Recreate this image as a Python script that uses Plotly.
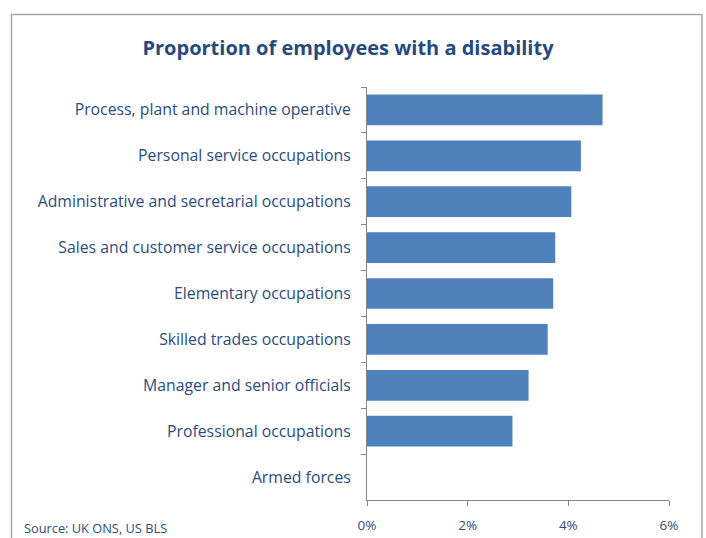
import plotly.graph_objects as go

# Share of employees reporting a disability, by occupation group (%)
occupations = [
    "Process, plant and machine operative",
    "Personal service occupations",
    "Administrative and secretarial occupations",
    "Sales and customer service occupations",
    "Elementary occupations",
    "Skilled trades occupations",
    "Manager and senior officials",
    "Professional occupations",
    "Armed forces",
]
share_pct = [4.68, 4.25, 4.06, 3.74, 3.70, 3.59, 3.21, 2.89, 0.0]
x_ticks = [0, 2, 4, 6]
x_tick_labels = ["0%", "2%", "4%", "6%"]

text_blue = "#2C4D80"
axis_grey = "#868686"
font_family = "Open Sans, Carlito, Calibri, sans-serif"

fig = go.Figure(
    go.Bar(
        x=share_pct,
        y=occupations,
        orientation="h",
        marker=dict(color="#4F81BD", line=dict(width=0)),
        hoverinfo="x+y",
    )
)

W, H = 706, 538
ml, mr, mt, mb = 367, 37, 87, 38
pw, ph = W - ml - mr, H - mt - mb


def px_x(px):
    return (px - ml) / pw


def px_y(py):
    return (H - mb - py) / ph


fig.update_layout(
    width=W,
    height=H,
    margin=dict(l=ml, r=mr, t=mt, b=mb, autoexpand=False),
    paper_bgcolor="white",
    plot_bgcolor="white",
    bargap=0.33,
    showlegend=False,
    font=dict(family=font_family, color=text_blue, size=15),
    title=dict(
        text="<b>Proportion of employees with a disability</b>",
        x=348 / W,
        xref="container",
        xanchor="center",
        y=1 - 48 / H,
        yref="container",
        yanchor="middle",
        font=dict(size=20, color="#254A7E", family=font_family),
    ),
    xaxis=dict(
        range=[0, 6],
        tickvals=x_ticks,
        ticktext=x_tick_labels,
        showgrid=False,
        zeroline=False,
        showline=True,
        linecolor=axis_grey,
        linewidth=1,
        ticks="outside",
        ticklen=5,
        tickcolor=axis_grey,
        tickfont=dict(size=13.5, color=text_blue),
        ticklabelstandoff=8,
        automargin=False,
        fixedrange=True,
    ),
    yaxis=dict(
        categoryorder="array",
        categoryarray=occupations,
        autorange="reversed",
        showgrid=False,
        zeroline=False,
        showline=True,
        linecolor=axis_grey,
        linewidth=1,
        ticks="outside",
        ticklen=5,
        tickcolor=axis_grey,
        tickson="boundaries",
        tickfont=dict(size=15.8, color=text_blue),
        ticklabelstandoff=12,
        automargin=False,
        fixedrange=True,
    ),
    shapes=[
        dict(
            type="rect",
            xref="paper",
            yref="paper",
            x0=px_x(11.5),
            x1=px_x(702),
            y0=px_y(560),
            y1=px_y(14.5),
            line=dict(color="#A6A6A6", width=1.5),
            fillcolor="rgba(0,0,0,0)",
            layer="below",
        )
    ],
    annotations=[
        dict(
            text="Source: UK ONS, US BLS",
            xref="paper",
            yref="paper",
            x=px_x(22),
            y=px_y(528),
            xanchor="left",
            yanchor="middle",
            showarrow=False,
            font=dict(size=12.8, color=text_blue, family=font_family),
        )
    ],
)

fig.write_html("out.html")
